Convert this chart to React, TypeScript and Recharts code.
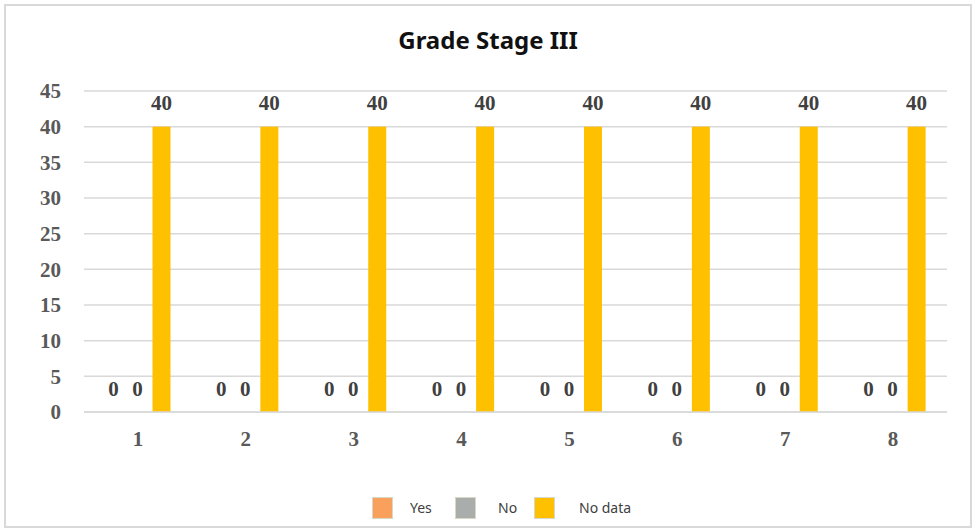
import React from "react";
import { BarChart, Bar, XAxis, YAxis, CartesianGrid } from "recharts";

const categories = ["1", "2", "3", "4", "5", "6", "7", "8"];
const yesValues = [0, 0, 0, 0, 0, 0, 0, 0];
const noValues = [0, 0, 0, 0, 0, 0, 0, 0];
const noDataValues = [40, 40, 40, 40, 40, 40, 40, 40];
const yTicks = [0, 5, 10, 15, 20, 25, 30, 35, 40, 45];
const seriesNames = ["Yes", "No", "No data"];
const seriesColors = ["#F9A05C", "#A9ADAB", "#FFC000"];

const data = categories.map((c, i) => ({
  cat: c,
  yes: yesValues[i],
  no: noValues[i],
  nodata: noDataValues[i],
}));

const serif = "'Liberation Serif', 'Times New Roman', serif";
const sans = "'Noto Sans', 'Open Sans', sans-serif";

const makeShape = (color: string, offset: number) => (props: any) => {
  const { x, y, width, height, value } = props;
  const v = Array.isArray(value) ? value[1] - value[0] : value;
  return (
    <g>
      {height > 0 ? <rect x={x} y={y} width={width} height={height} fill={color} /> : null}
      <text
        x={x + width / 2}
        y={y - offset}
        textAnchor="middle"
        fontFamily={serif}
        fontWeight={700}
        fontSize={21}
        fill="#404040"
      >
        {v}
      </text>
    </g>
  );
};

export default function App() {
  return (
    <div
      style={{
        position: "absolute",
        left: 0,
        top: 0,
        width: 976,
        height: 530,
        background: "#fff",
      }}
    >
      <div
        style={{
          position: "absolute",
          left: 4,
          top: 4,
          width: 968,
          height: 524,
          border: "2px solid #D9D9D9",
          boxSizing: "border-box",
        }}
      />
      <div
        style={{
          position: "absolute",
          left: 0,
          top: 23,
          width: 976,
          textAlign: "center",
          fontFamily: sans,
          fontWeight: 700,
          fontSize: 24,
          color: "#111",
        }}
      >
        Grade Stage III
      </div>
      <div style={{ position: "absolute", left: 0, top: 0 }}>
        <BarChart
          width={976}
          height={530}
          data={data}
          margin={{ top: 91, right: 29, bottom: 78, left: 0 }}
          barCategoryGap="19%"
          barGap={6}
        >
          <CartesianGrid vertical={false} stroke="#D9D9D9" strokeWidth={1.5} />
          <XAxis
            dataKey="cat"
            height={40}
            axisLine={{ stroke: "#D9D9D9", strokeWidth: 1.5 }}
            tickLine={false}
            tickSize={0}
            tickMargin={19}
            tick={{ fontFamily: serif, fontWeight: 700, fontSize: 21, fill: "#595959" }}
          />
          <YAxis
            width={84}
            domain={[0, 45]}
            ticks={yTicks}
            interval={0}
            axisLine={false}
            tickLine={false}
            tickSize={0}
            tickMargin={23}
            tick={{ fontFamily: serif, fontWeight: 700, fontSize: 21, fill: "#595959" }}
          />
          <Bar
            dataKey="yes"
            name={seriesNames[0]}
            fill={seriesColors[0]}
            isAnimationActive={false}
            shape={makeShape(seriesColors[0], 16)}
          />
          <Bar
            dataKey="no"
            name={seriesNames[1]}
            fill={seriesColors[1]}
            isAnimationActive={false}
            shape={makeShape(seriesColors[1], 16)}
          />
          <Bar
            dataKey="nodata"
            name={seriesNames[2]}
            fill={seriesColors[2]}
            isAnimationActive={false}
            shape={makeShape(seriesColors[2], 17)}
          />
        </BarChart>
      </div>
      {[
        { sq: 372, tx: 410 },
        { sq: 455, tx: 498 },
        { sq: 534, tx: 579 },
      ].map((p, i) => (
        <React.Fragment key={seriesNames[i]}>
          <div
            style={{
              position: "absolute",
              left: p.sq,
              top: 497,
              width: 21,
              height: 22,
              background: seriesColors[i],
              border: "1px solid #D8D8C8",
              boxSizing: "border-box",
            }}
          />
          <div
            style={{
              position: "absolute",
              left: p.tx,
              top: 498,
              fontFamily: sans,
              fontSize: 14,
              color: "#404040",
              lineHeight: "20px",
            }}
          >
            {seriesNames[i]}
          </div>
        </React.Fragment>
      ))}
    </div>
  );
}
